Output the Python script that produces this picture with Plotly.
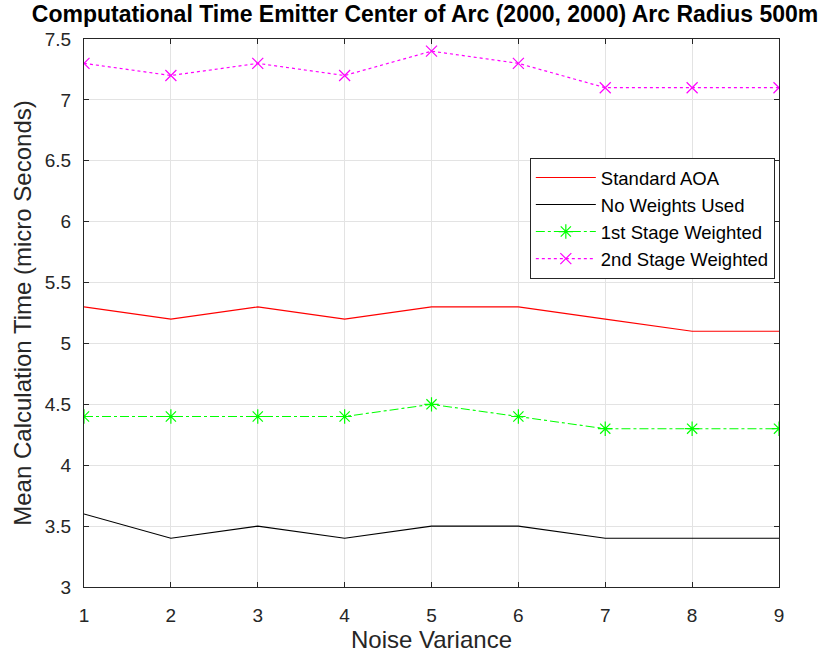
import plotly.graph_objects as go

# Noise variance levels on the x axis
noise_variance = [1, 2, 3, 4, 5, 6, 7, 8, 9]

# Mean calculation time (micro seconds) per estimator
standard_aoa = [5.3, 5.2, 5.3, 5.2, 5.3, 5.3, 5.2, 5.1, 5.1]
no_weights = [3.6, 3.4, 3.5, 3.4, 3.5, 3.5, 3.4, 3.4, 3.4]
first_stage = [4.4, 4.4, 4.4, 4.4, 4.5, 4.4, 4.3, 4.3, 4.3]
second_stage = [7.3, 7.2, 7.3, 7.2, 7.4, 7.3, 7.1, 7.1, 7.1]

y_ticks = [3, 3.5, 4, 4.5, 5, 5.5, 6, 6.5, 7, 7.5]
y_tick_text = ["3", "3.5", "4", "4.5", "5", "5.5", "6", "6.5", "7", "7.5"]

FONT = "Liberation Sans, Arial, Helvetica, sans-serif"
AX = "#262626"
GRID = "#e3e3e3"

fig = go.Figure()
fig.add_trace(go.Scatter(
    x=noise_variance, y=standard_aoa, name="Standard AOA", mode="lines",
    line=dict(color="#ff0000", width=1.1)))
fig.add_trace(go.Scatter(
    x=noise_variance, y=no_weights, name="No Weights Used", mode="lines",
    line=dict(color="#000000", width=1.1)))
fig.add_trace(go.Scatter(
    x=noise_variance, y=first_stage, name="1st Stage Weighted", mode="lines+markers",
    line=dict(color="#00ff00", width=1.1, dash="dashdot"),
    marker=dict(symbol="asterisk-open", size=12, color="#00ff00",
                line=dict(color="#00ff00", width=1.2))))
fig.add_trace(go.Scatter(
    x=noise_variance, y=second_stage, name="2nd Stage Weighted", mode="lines+markers",
    line=dict(color="#ff00ff", width=1.2, dash="dot"),
    marker=dict(symbol="x-thin-open", size=11, color="#ff00ff",
                line=dict(color="#ff00ff", width=1.2))))

axis_common = dict(
    showline=True, linecolor=AX, linewidth=1.2, mirror="ticks",
    ticks="inside", ticklen=5, tickcolor=AX, tickwidth=1,
    showgrid=True, gridcolor=GRID, gridwidth=1, zeroline=False,
    tickfont=dict(family=FONT, size=19, color=AX),
    automargin=False,
)

fig.update_layout(
    width=840, height=658,
    margin=dict(l=84, r=61, t=39, b=71),
    paper_bgcolor="white", plot_bgcolor="white",
    title=dict(
        text="<b>Computational Time Emitter Center of Arc (2000, 2000) Arc Radius 500m</b>",
        font=dict(family=FONT, size=23, color="#000000"),
        x=0.506, xanchor="center", y=0.979, yanchor="middle"),
    xaxis=dict(
        range=[1, 9], tickvals=noise_variance, ticklabelstandoff=11,
        title=dict(text="Noise Variance", font=dict(family=FONT, size=24, color=AX), standoff=6),
        **axis_common),
    yaxis=dict(
        range=[3, 7.5], tickvals=y_ticks, ticktext=y_tick_text, ticklabelstandoff=8,
        title=dict(text="Mean Calculation Time (micro Seconds)",
                   font=dict(family=FONT, size=24, color=AX), standoff=6),
        **axis_common),
    legend=dict(
        x=0.994, y=0.783, xanchor="right", yanchor="top",
        bgcolor="white", bordercolor=AX, borderwidth=1,
        font=dict(family=FONT, size=18.5, color="#000000"),
        tracegroupgap=0, itemwidth=60),
    showlegend=True,
)

fig.write_html("out.html")
